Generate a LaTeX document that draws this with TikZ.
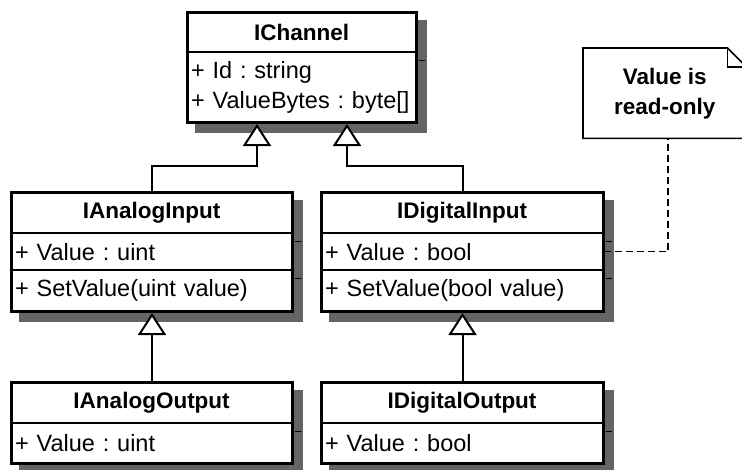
\documentclass[tikz,border=0pt]{standalone}
\usepackage{fontspec}
\setmainfont{Liberation Sans}
\usetikzlibrary{arrows.meta,calc,backgrounds}
\definecolor{shadowgray}{RGB}{100,100,100}
\begin{document}
\begin{tikzpicture}[x=1pt,y=-1pt,
  classbox/.style={draw, line width=3pt, fill=white, inner sep=0pt, anchor=north west},
  shadowfill/.style={fill=shadowgray},
  comp/.style={draw, line width=2.2pt, inner sep=0pt, anchor=north west},
  titlecomp/.style={comp, font=\fontsize{22.5}{28}\selectfont\bfseries},
  rowcomp/.style={comp, inner xsep=4pt, align=left, font=\frenchspacing\fontsize{23.5}{30}\selectfont},
  gen/.style={line width=2pt, -{Triangle[length=22pt,width=28pt,fill=white]}},
  tick/.style={line width=1pt, black},
  notebox/.style={inner sep=0pt, anchor=north west, align=center, font=\fontsize{22.5}{30}\selectfont\bfseries},
  noteline/.style={line width=1.6pt, line join=miter},
  notelink/.style={line width=1.6pt, dash pattern=on 7pt off 4pt}
]
\useasboundingbox (0,0) rectangle (742,469);

% IChannel
\node[classbox, minimum width=229, minimum height=110] (ic) at (186,11) {};
\node[titlecomp, minimum width=229, minimum height=40] (ic-t) at (186,11) {IChannel};
\node[rowcomp, minimum width=229, text width=221, minimum height=70] (ic-a) at (186,51) {+ Id : string\\+ ValueBytes : byte[]};

% IAnalogInput
\node[classbox, minimum width=281, minimum height=119] (ai) at (10,191) {};
\node[titlecomp, minimum width=281, minimum height=41] (ai-t) at (10,191) {IAnalogInput};
\node[rowcomp, minimum width=281, text width=273, minimum height=37] (ai-a) at (10,232) {+ Value : uint};
\node[rowcomp, minimum width=281, text width=273, minimum height=41] (ai-o) at (10,269) {+ SetValue(uint value)};

% IDigitalInput
\node[classbox, minimum width=282, minimum height=119] (di) at (320,191) {};
\node[titlecomp, minimum width=282, minimum height=41] (di-t) at (320,191) {IDigitalInput};
\node[rowcomp, minimum width=282, text width=274, minimum height=37] (di-a) at (320,232) {+ Value : bool};
\node[rowcomp, minimum width=282, text width=274, minimum height=41] (di-o) at (320,269) {+ SetValue(bool value)};

% IAnalogOutput
\node[classbox, minimum width=281, minimum height=81] (ao) at (10,381) {};
\node[titlecomp, minimum width=281, minimum height=41] (ao-t) at (10,381) {IAnalogOutput};
\node[rowcomp, minimum width=281, text width=273, minimum height=40] (ao-a) at (10,422) {+ Value : uint};

% IDigitalOutput
\node[classbox, minimum width=282, minimum height=81] (dout) at (320,381) {};
\node[titlecomp, minimum width=282, minimum height=41] (dout-t) at (320,381) {IDigitalOutput};
\node[rowcomp, minimum width=282, text width=274, minimum height=40] (dout-a) at (320,422) {+ Value : bool};

% shadows
\begin{scope}[on background layer]
\foreach \n in {ic,ai,di,ao,dout}{
  \fill[shadowfill] ($(\n.north west)+(8.5,8.5)$) rectangle ($(\n.south east)+(8.5,8.5)$);
}
\end{scope}

% separator shadows
\foreach \n in {ic-t,ai-t,ai-a,di-t,di-a,ao-t,dout-t}{
  \draw[tick] ($(\n.south east)+(1.5,7)$) -- ++(6,0);
}

% Note
\node[notebox, minimum width=163, minimum height=90] (note) at (583,48) {Value is\\read-only};
\draw[noteline] (note.north west) -- ($(note.north east)+(-19,0)$) -- ($(note.north east)+(0,19)$)
  -- (note.south east) -- (note.south west) -- cycle;
\draw[noteline] ($(note.north east)+(-19,0)$) -- ++(0,19) -- ++(19,0);

% Generalizations
\draw[gen] (ai.north) -- ++(0,-25) -| ($(ic.south)+(-45,0)$);
\draw[gen] (di.north) -- ++(0,-25) -| ($(ic.south)+(45,0)$);
\draw[gen] (ao.north) -- (ai.south);
\draw[gen] (dout.north) -- (di.south);

% Note link
\coordinate (nb) at ($(note.south)+(3.5,0)$);
\draw[notelink] (di-a.east) -| (nb);
\end{tikzpicture}
\end{document}
